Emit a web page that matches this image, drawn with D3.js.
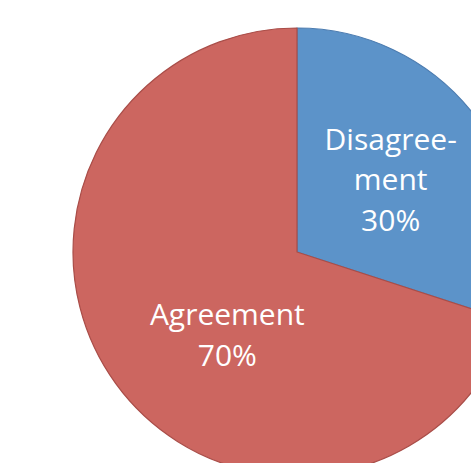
<!DOCTYPE html>
<html>
<head>
<meta charset="utf-8">
<script src="https://cdn.jsdelivr.net/npm/d3@7"></script>
<style>
  html, body { margin: 0; padding: 0; background: #ffffff; overflow: hidden; }
  svg { display: block; }
</style>
</head>
<body>
<svg id="chart" width="471" height="463"></svg>
<script>
// Survey responses
const categories = ["Disagreement", "Agreement"];
const values = [30, 70];
const labelLines = [["Disagree-", "ment", "30%"], ["Agreement", "70%"]];
const fills = ["#5C93C9", "#CC6660"];
const strokes = ["#4C7CB0", "#A94D48"];

const svg = d3.select("#chart");
const cx = 297, cy = 252, radius = 224;

const pie = d3.pie().sort(null).value(d => d.value);
const data = categories.map((c, i) => ({ name: c, value: values[i], lines: labelLines[i], i }));
const arcs = pie(data);

const arc = d3.arc().innerRadius(0).outerRadius(radius);

const g = svg.append("g").attr("transform", `translate(${cx},${cy})`);

g.selectAll("path.slice")
  .data(arcs)
  .enter().append("path")
  .attr("class", "slice")
  .attr("d", arc)
  .attr("fill", d => fills[d.data.i])
  .attr("stroke", d => strokes[d.data.i])
  .attr("stroke-width", 1.2)
  .attr("stroke-linejoin", "round");

// Label anchor: centroid on a mid-radius arc, then nudged for each slice
const labelArc = d3.arc().innerRadius(radius * 0.55).outerRadius(radius * 0.55);
const nudges = [[-6, -30], [30, 1]];
const lineHeight = 40.5;

const labels = g.selectAll("text.label")
  .data(arcs)
  .enter().append("text")
  .attr("class", "label")
  .attr("text-anchor", "middle")
  .attr("fill", "#ffffff")
  .style("font-family", "'Open Sans', 'Noto Sans', sans-serif")
  .style("font-size", "30px")
  .attr("transform", d => {
    const [x, y] = labelArc.centroid(d);
    const n = nudges[d.data.i];
    return `translate(${x + n[0]},${y + n[1]})`;
  });

labels.selectAll("tspan")
  .data(d => d.data.lines)
  .enter().append("tspan")
  .attr("x", 0)
  .attr("y", (d, j) => j * lineHeight)
  .text(d => d);
</script>
</body>
</html>
